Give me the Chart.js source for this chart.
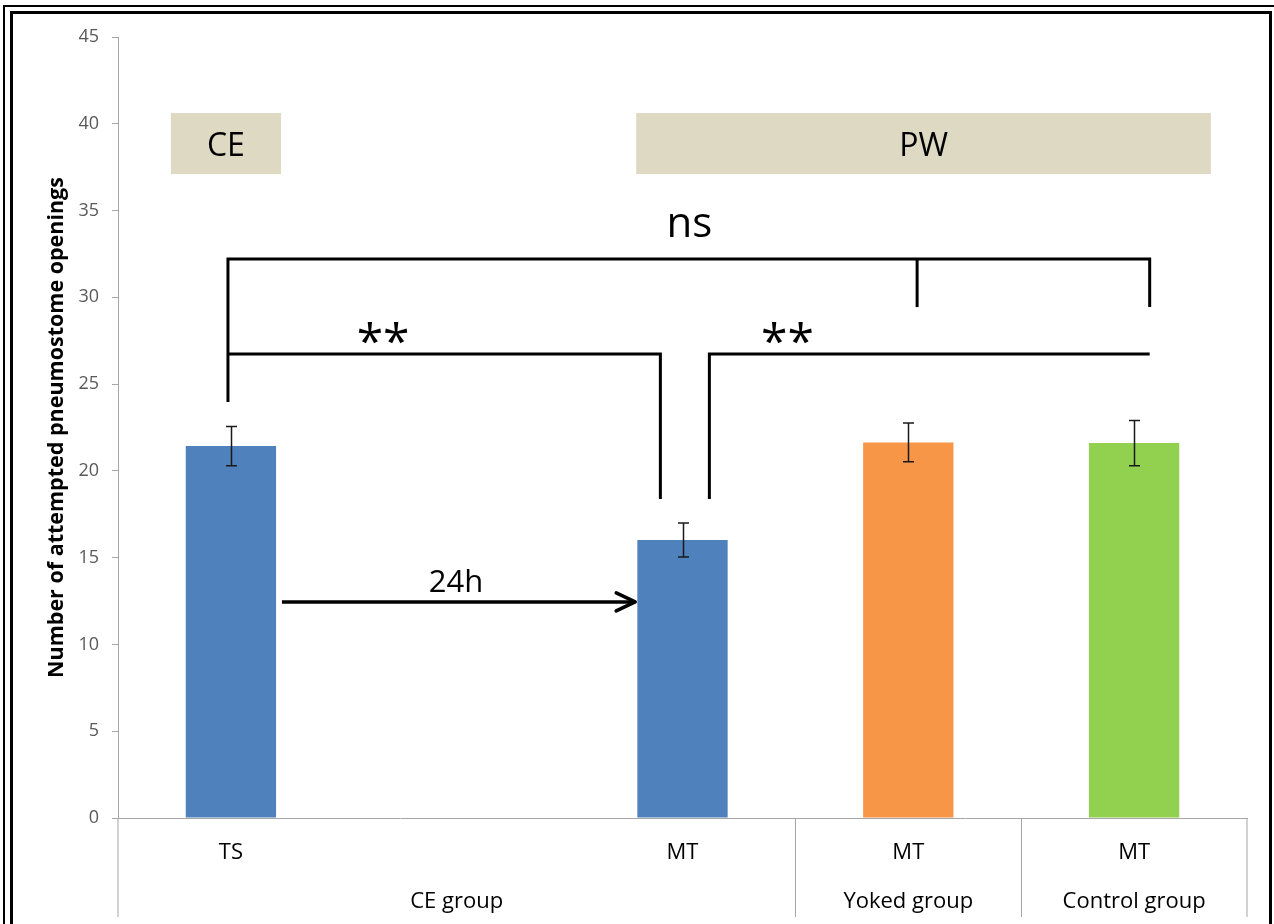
<!DOCTYPE html>
<html>
<head>
<meta charset="utf-8">
<script src="https://cdn.jsdelivr.net/npm/chart.js@4.4.1/dist/chart.umd.min.js"></script>
<style>
  html, body { margin: 0; padding: 0; background: #ffffff; }
  #wrap { position: relative; width: 1274px; height: 924px; overflow: hidden; background: #fff; }
  #c { position: absolute; left: 0; top: 0; }
  .frame-outer { position: absolute; left: 3px; top: 5px; width: 1300px; height: 1000px;
                 border-top: 2px solid #000; border-left: 2px solid #000; box-sizing: border-box; }
  .frame-inner { position: absolute; left: 10px; top: 11px; width: 1262px; height: 1000px;
                 border-top: 3px solid #000; border-left: 3px solid #000; border-right: 3px solid #000; box-sizing: border-box; }
</style>
</head>
<body>
<div id="wrap">
  <canvas id="c" width="1274" height="924"></canvas>
  <div class="frame-outer"></div>
  <div class="frame-inner"></div>
</div>
<script>
// ---- data ----
const categories = ['TS', '', 'MT', 'MT', 'MT'];
const groupLabels = ['CE group', 'Yoked group', 'Control group'];
const groupStart = [0, 3, 4];
const groupEnd = [2, 3, 4];
const means = [21.43, null, 16.02, 21.64, 21.6];
const errors = [1.13, null, 0.98, 1.12, 1.31];
const barColors = ['#4f81bd', '#4f81bd', '#4f81bd', '#f79646', '#92d050'];
const yMin = 0, yMax = 45, yStep = 5;
const yTitle = 'Number of attempted pneumostome openings';

// annotation texts and anchors (in category-index / value units)
const phaseLabels = ['CE', 'PW'];
const phaseFrom = [-0.266, 1.795];
const phaseTo = [0.222, 4.34];
const phaseLow = 37.1, phaseHigh = 40.62;
const sigLabels = ['ns', '**', '**'];
const sigAt = [2.03, 0.674, 2.465];
const sigBase = [33.47, 26.5, 26.5];
const arrowLabel = '24h';

const FONT = '"Open Sans", "Liberation Sans", sans-serif';

const annotations = {
  id: 'annotations',
  afterDraw(chart) {
    const { ctx, scales: { x, y } } = chart;
    const step = x.getPixelForValue(1) - x.getPixelForValue(0);
    const X = v => x.getPixelForValue(0) + v * step;
    const Y = v => y.getPixelForValue(v);
    ctx.save();

    // multi-level axis separators
    ctx.strokeStyle = '#a6a6a6';
    ctx.lineWidth = 1;
    const sepBottom = x.bottom - 7;
    const seps = [x.left];
    for (let g = 1; g < groupStart.length; g++) seps.push(Math.round((X(groupEnd[g - 1]) + X(groupStart[g])) / 2) + 0.5);
    seps.push(x.right);
    seps.forEach(px => {
      ctx.beginPath(); ctx.moveTo(px, x.top); ctx.lineTo(px, sepBottom); ctx.stroke();
    });
    // group labels
    ctx.fillStyle = '#000';
    ctx.font = '22px ' + FONT;
    ctx.textAlign = 'center';
    ctx.textBaseline = 'middle';
    groupLabels.forEach((lab, g) => {
      const l = g === 0 ? x.left : (X(groupEnd[g - 1]) + X(groupStart[g])) / 2;
      const r = g === groupLabels.length - 1 ? x.right : (X(groupEnd[g]) + X(groupStart[g + 1])) / 2;
      ctx.fillText(lab, (l + r) / 2, x.top + 84);
    });

    // error bars
    ctx.strokeStyle = '#1a1a1a';
    ctx.lineWidth = 1.5;
    means.forEach((m, i) => {
      if (m == null) return;
      const cx = Math.round(X(i)) + 0.5;
      const t = Y(m + errors[i]), b = Y(m - errors[i]);
      ctx.beginPath();
      ctx.moveTo(cx, t); ctx.lineTo(cx, b);
      ctx.moveTo(cx - 5.5, t); ctx.lineTo(cx + 5.5, t);
      ctx.moveTo(cx - 5.5, b); ctx.lineTo(cx + 5.5, b);
      ctx.stroke();
    });

    // phase boxes
    phaseLabels.forEach((lab, k) => {
      const l = X(phaseFrom[k]), r = X(phaseTo[k]);
      const t = Y(phaseHigh), b = Y(phaseLow);
      ctx.fillStyle = '#ddd9c3';
      ctx.fillRect(l, t, r - l, b - t);
      ctx.fillStyle = '#000';
      ctx.font = '32px ' + FONT;
      ctx.textAlign = 'center';
      ctx.textBaseline = 'alphabetic';
      ctx.fillText(lab, (l + r) / 2, (t + b) / 2 + 0.357 * 32 + 1);
    });

    // significance brackets
    ctx.strokeStyle = '#000';
    ctx.lineWidth = 3;
    ctx.lineJoin = 'miter';
    ctx.lineCap = 'butt';
    const paths = [
      [[-0.013, 23.97], [-0.013, 32.21], [4.069, 32.21], [4.069, 29.44]],
      [[3.039, 32.21], [3.039, 29.44]],
      [[-0.013, 26.73], [1.902, 26.73], [1.902, 18.38]],
      [[2.119, 18.38], [2.119, 26.73], [4.069, 26.73]]
    ];
    paths.forEach(p => {
      ctx.beginPath();
      p.forEach(([a, v], j) => j ? ctx.lineTo(X(a), Y(v)) : ctx.moveTo(X(a), Y(v)));
      ctx.stroke();
    });
    ctx.fillStyle = '#000';
    ctx.textAlign = 'center';
    ctx.textBaseline = 'alphabetic';
    sigLabels.forEach((lab, k) => {
      ctx.font = (lab === 'ns' ? '42px ' : '48px ') + FONT;
      ctx.fillText(lab, X(sigAt[k]), Y(sigBase[k]));
    });

    // 24h arrow
    const ay = Y(12.45), ax0 = X(0.226), ax1 = X(1.795);
    ctx.lineWidth = 3.5;
    ctx.beginPath(); ctx.moveTo(ax0, ay); ctx.lineTo(ax1 - 2, ay); ctx.stroke();
    ctx.lineJoin = 'round'; ctx.lineCap = 'round';
    ctx.beginPath();
    ctx.moveTo(ax1 - 20, ay - 9); ctx.lineTo(ax1 - 1, ay); ctx.lineTo(ax1 - 20, ay + 9);
    ctx.stroke();
    ctx.font = '31px ' + FONT;
    ctx.fillText(arrowLabel, X(0.997), Y(13.02));

    ctx.restore();
  }
};

new Chart(document.getElementById('c'), {
  type: 'bar',
  data: {
    labels: categories,
    datasets: [{
      data: means,
      backgroundColor: barColors,
      borderWidth: 0,
      barPercentage: 0.4,
      categoryPercentage: 1.0
    }]
  },
  options: {
    responsive: false,
    animation: false,
    devicePixelRatio: 1,
    layout: { padding: { top: 37, right: 27, bottom: 0, left: 0 } },
    plugins: { legend: { display: false }, tooltip: { enabled: false } },
    scales: {
      x: {
        offset: true,
        grid: { display: false, drawTicks: false },
        border: { display: true, color: '#a6a6a6', width: 1 },
        ticks: { color: '#000', font: { family: FONT, size: 22 }, padding: 22, maxRotation: 0, autoSkip: false },
        afterFit(s) { s.height = 106; }
      },
      y: {
        min: yMin, max: yMax,
        grid: { drawOnChartArea: false, drawTicks: true, tickLength: 6, color: '#a6a6a6' },
        border: { display: true, color: '#a6a6a6', width: 1 },
        ticks: { stepSize: yStep, color: '#595959', font: { family: FONT, size: 18 }, padding: 13 },
        title: { display: true, text: yTitle, color: '#000', font: { family: FONT, size: 21.5, weight: 'bold' }, padding: { top: 44, bottom: 0 } },
        afterFit(s) { s.width = 118; }
      }
    }
  },
  plugins: [annotations]
});
</script>
</body>
</html>
